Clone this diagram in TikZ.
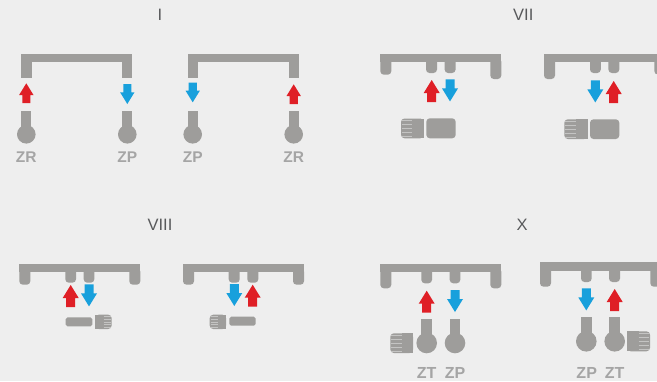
\documentclass[tikz,border=0pt]{standalone}
\usepackage{fontspec}
\setmainfont{Liberation Sans}
\definecolor{bggray}{HTML}{EEEEEE}
\definecolor{bodygray}{HTML}{9E9D9B}
\definecolor{hatchgray}{HTML}{C4C4C3}
\definecolor{labelgray}{HTML}{A5A5A5}
\definecolor{titlegray}{HTML}{58595B}
\definecolor{hotred}{HTML}{DF1F26}
\definecolor{coldblue}{HTML}{18A0DC}
\tikzset{
    body/.style={fill=bodygray},
    soft/.style={fill=bodygray, rounded corners=3.5},
    softbar/.style={fill=bodygray, rounded corners=1.8},
    title/.style={text=titlegray, font=\fontsize{16.5}{18}\selectfont, inner sep=0},
    tag/.style={text=labelgray, font=\fontsize{15.5}{18}\selectfont\bfseries, inner sep=0},
    bigtag/.style={tag, font=\fontsize{16}{17}\selectfont\bfseries},
    hatch/.style={draw=hatchgray, line width=0.5},
}
% x, tip y, size
\newcommand{\arrowup}[3]{\fill[hotred, shift={(#1,#2)}, scale=#3] (0,0) -- (8,13) -- (4.5,13) -- (4.5,22) -- (-4.5,22) -- (-4.5,13) -- (-8,13) -- cycle;}
\newcommand{\arrowdown}[3]{\fill[coldblue, shift={(#1,#2)}, scale=#3] (0,0) -- (8,-13) -- (4.5,-13) -- (4.5,-22) -- (-4.5,-22) -- (-4.5,-13) -- (-8,-13) -- cycle;}
% x, stem top, circle y, radius, stem half width
\newcommand{\valve}[5]{\fill[body] (#1-#5,#2) rectangle (#1+#5,#3); \fill[body] (#1,#3) circle (#4);}
% x0, x1, y0, y1
\newcommand{\grip}[4]{\fill[soft] (#1,#3) rectangle (#2,#4);}
\newcommand{\gripleft}[4]{\grip{#1}{#2}{#3}{#4}
    \fill[body] ({(#1+#2)/2},#3) rectangle (#2,#4);
    \foreach \k in {0,...,4} \draw[hatch] (#1+1,{#3+(#4-#3)*(\k+0.5)/5}) -- ({(#1+#2)/2},{#3+(#4-#3)*(\k+0.5)/5});}
\newcommand{\gripright}[4]{\grip{#1}{#2}{#3}{#4}
    \fill[body] (#1,#3) rectangle ({(#1+#2)/2},#4);
    \foreach \k in {0,...,4} \draw[hatch] ({(#1+#2)/2},{#3+(#4-#3)*(\k+0.5)/5}) -- (#2-1,{#3+(#4-#3)*(\k+0.5)/5});}
\begin{document}
\begin{tikzpicture}[x=1pt, y=-1pt]
    \useasboundingbox (0,0) rectangle (657,381);
    \clip (0,0) rectangle (657,381);
    \fill[bggray] (0,0) rectangle (657,381);
    % Titles
    \node[title] (titleI) at (160,14.5) {I};
    \node[title] (titleVII) at (523.3,14.5) {VII};
    \node[title] (titleVIII) at (160,224.5) {VIII};
    \node[title] (titleX) at (522,224.5) {X};
    % Group I: left
    \fill[body] (21.3,54) rectangle (132.3,62);
    \fill[body] (21.3,54) rectangle (31.7,77.7);
    \fill[body] (122.3,54) rectangle (132.3,77.7);
    \arrowup{26.3}{83.3}{0.9}
    \arrowdown{127.3}{104}{0.9}
    \valve{26.3}{111}{134.3}{9.3}{5.1}
    \valve{127.3}{111}{134.3}{9.3}{5.1}
    \node[tag] (zrA) at (26.3,157.2) {ZR};
    \node[tag] (zpA) at (127.3,157.2) {ZP};
    % Group I: right
    \fill[body] (188,54) rectangle (298.7,62);
    \fill[body] (188,54) rectangle (198,77.7);
    \fill[body] (288.7,54) rectangle (298.7,77.7);
    \arrowdown{192.7}{102.3}{0.9}
    \arrowup{293.7}{84.3}{0.9}
    \valve{192.7}{111}{134.3}{9.3}{5.1}
    \valve{293.7}{111}{134.3}{9.3}{5.1}
    \node[tag] (zpB) at (192.7,157.2) {ZP};
    \node[tag] (zrB) at (293.7,157.2) {ZR};
    % Group VII: left
    \fill[body] (380.3,54) rectangle (501.3,62.3);
    \fill[soft] (380.3,58) rectangle (391.3,74.7);
    \fill[soft] (490.3,58) rectangle (501.3,79);
    \fill[soft] (426,58) rectangle (437,73);
    \fill[soft] (444.6,58) rectangle (455.6,73);
    \arrowup{431.7}{80}{1}
    \arrowdown{450}{101.4}{1}
    \gripleft{401}{423.7}{118.5}{138.3}
    \fill[soft] (426.3,118.3) rectangle (455.7,138.3);
    % Group VII: right
    \fill[body] (544,54) rectangle (665,62.3);
    \fill[soft] (544,58) rectangle (555,79);
    \fill[soft] (654.3,58) rectangle (665,74.5);
    \fill[soft] (590,58) rectangle (600.8,73);
    \fill[soft] (608.4,58) rectangle (619.3,73);
    \arrowdown{595.3}{102.4}{1}
    \arrowup{613.7}{81}{1}
    \gripleft{564.3}{587.7}{119.3}{139}
    \fill[soft] (590,119.3) rectangle (619.3,139);
    % Group VIII: left
    \fill[body] (19.3,264) rectangle (140.3,272.3);
    \fill[soft] (19.3,268) rectangle (30.3,284.7);
    \fill[soft] (129.3,268) rectangle (140.3,284.7);
    \fill[soft] (65.3,268) rectangle (76,282.7);
    \fill[soft] (83.7,268) rectangle (94.3,282.7);
    \arrowup{70.7}{285}{1}
    \arrowdown{89}{306.4}{1}
    \fill[softbar] (65.7,317.3) rectangle (92.3,326.3);
    \gripright{95.3}{111.7}{314.7}{329}
    % Group VIII: right
    \fill[body] (183,264) rectangle (304,272.3);
    \fill[soft] (183,268) rectangle (194,284.7);
    \fill[soft] (293,268) rectangle (304,284.7);
    \fill[soft] (228.7,268) rectangle (239.7,282.7);
    \fill[soft] (247.3,268) rectangle (258.3,282.7);
    \arrowdown{234.3}{306}{1}
    \arrowup{252.7}{284.7}{1}
    \fill[softbar] (229.3,316.7) rectangle (255.7,325.7);
    \gripleft{209.7}{226}{314.7}{329}
    % Group X: left
    \fill[body] (380.3,264) rectangle (501.3,272.3);
    \fill[soft] (380.3,268) rectangle (391.3,288.3);
    \fill[soft] (490.3,268) rectangle (501.3,288.3);
    \fill[soft] (421.3,268) rectangle (432,283.3);
    \fill[soft] (449.7,268) rectangle (460.3,283.3);
    \arrowup{426.7}{290.7}{1}
    \arrowdown{455}{312}{1}
    \valve{426.7}{319.3}{343}{10.3}{5.4}
    \valve{455}{319.3}{343}{10.3}{5.4}
    \gripleft{390.3}{413}{333.3}{353}
    \node[bigtag] (ztC) at (426.7,373.2) {ZT};
    \node[bigtag] (zpC) at (455,373.2) {ZP};
    % Group X: right
    \fill[body] (540,262) rectangle (661,270.7);
    \fill[soft] (540,266) rectangle (551,286.7);
    \fill[soft] (650.3,266) rectangle (661,286.7);
    \fill[soft] (581,266) rectangle (591.7,282);
    \fill[soft] (609,266) rectangle (620,282);
    \arrowdown{586.3}{310.4}{1}
    \arrowup{614.7}{289}{1}
    \valve{586.3}{317.3}{341.3}{10.3}{5.4}
    \valve{614.7}{317.3}{341.3}{10.3}{5.4}
    \gripright{627.3}{650}{331.3}{351.3}
    \node[bigtag] (zpD) at (586.7,372.8) {ZP};
    \node[bigtag] (ztD) at (614.7,372.8) {ZT};
\end{tikzpicture}
\end{document}
